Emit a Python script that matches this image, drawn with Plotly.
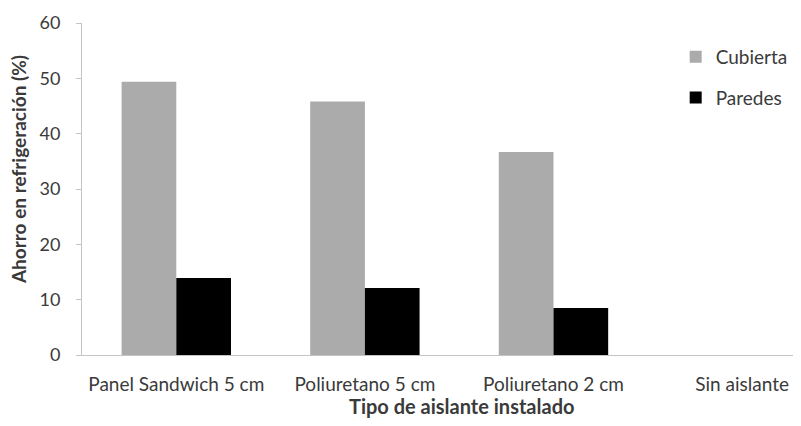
import plotly.graph_objects as go

categories = ["Panel Sandwich 5 cm", "Poliuretano 5 cm", "Poliuretano 2 cm", "Sin aislante"]
cubierta = [49.4, 45.8, 36.7, 0]
paredes = [13.9, 12.1, 8.5, 0]
y_ticks = [0, 10, 20, 30, 40, 50, 60]

font_family = "Lato, Open Sans, sans-serif"
txt = "#3a3a3a"

fig = go.Figure()
fig.add_trace(go.Bar(x=categories, y=cubierta, name="Cubierta", marker_color="#ababab",
                     marker_line_width=0, legendgroup="a"))
fig.add_trace(go.Bar(x=categories, y=paredes, name="Paredes", marker_color="#000000",
                     marker_line_width=0, legendgroup="b"))

fig.update_layout(
    width=785, height=410,
    margin=dict(l=74, r=0, t=15, b=63, autoexpand=False),
    paper_bgcolor="white", plot_bgcolor="white",
    barmode="group", bargap=0.42, bargroupgap=0,
    font=dict(family=font_family, size=18, color=txt),
    legend=dict(x=0.835, y=0.955, xanchor="left", yanchor="top",
                font=dict(size=19, color=txt), tracegroupgap=13, itemwidth=30,
                bgcolor="rgba(0,0,0,0)"),
    xaxis=dict(range=[-0.5, 3.27], showgrid=False, showline=True, linecolor="#c4c4c4",
               linewidth=1, ticks="", ticklabelstandoff=12,
               tickfont=dict(size=19, color=txt), automargin=False),
    yaxis=dict(range=[0, 60], tickvals=y_ticks, showgrid=False, showline=True,
               linecolor="#c4c4c4", linewidth=1, ticks="outside", ticklen=5, tickcolor="#c4c4c4",
               ticklabelstandoff=12,
               tickfont=dict(size=18, color=txt), zeroline=False, automargin=False),
    annotations=[
        dict(text="<b>Ahorro en refrigeración (%)</b>", xref="paper", yref="paper",
             x=-0.09, y=0.557, textangle=-90, showarrow=False,
             font=dict(size=19, color=txt), xanchor="center", yanchor="middle"),
        dict(text="<b>Tipo de aislante instalado</b>", xref="paper", yref="paper",
             x=0.534, y=-0.154, showarrow=False,
             font=dict(size=20, color=txt), xanchor="center", yanchor="middle"),
    ],
)

fig.write_html("out.html")
